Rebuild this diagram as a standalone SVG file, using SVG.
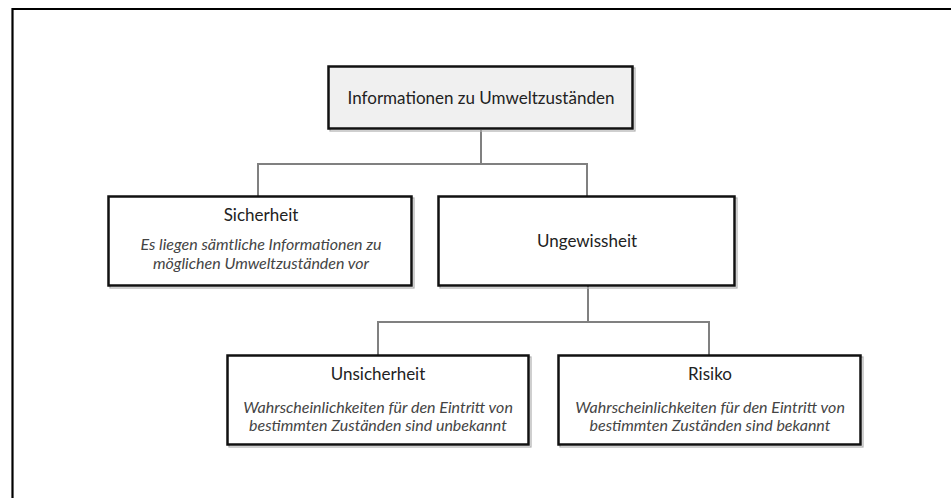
<svg xmlns="http://www.w3.org/2000/svg" width="951" height="498" viewBox="0 0 951 498">
<style>
.frame{fill:none;stroke:#000;stroke-width:2.2}
.box{fill:#fff;stroke:#111;stroke-width:2.5}
.shadow{fill:none;stroke:#b0b0b0;stroke-width:1.2}
.root{fill:#f0f0f0}
.conn{fill:none;stroke:#808080;stroke-width:2}
.t{font-family:Lato,"Open Sans","Liberation Sans",sans-serif;font-size:17px;fill:#222;text-anchor:middle}
.i{font-family:Lato,"Open Sans","Liberation Sans",sans-serif;font-size:16px;font-style:italic;fill:#444;text-anchor:middle}
</style>
<rect width="951" height="498" fill="#fff"/>
<path class="frame" d="M12.5 500 V9 H955"/>
<g id="connectors">
<path class="conn" d="M481 130 V164 M258 196 V164 H587 V196"/>
<path class="conn" d="M588 286 V322 M378 355 V322 H709 V355"/>
</g>
<g id="n-root">
<rect class="shadow" x="330" y="68" width="305" height="63"/>
<rect class="box root" x="328.5" y="66.5" width="304" height="62"/>
<text class="t" x="481" y="104">Informationen zu Umweltzuständen</text>
</g>
<g id="n-sicherheit">
<rect class="shadow" x="110" y="198" width="304" height="90"/>
<rect class="box" x="108.5" y="196.5" width="303" height="89"/>
<text class="t" x="261" y="221">Sicherheit</text>
<text class="i" x="261" y="250">Es liegen sämtliche Informationen zu</text>
<text class="i" x="261" y="269">möglichen Umweltzuständen vor</text>
</g>
<g id="n-ungewissheit">
<rect class="shadow" x="440" y="198" width="297" height="90"/>
<rect class="box" x="438.5" y="196.5" width="296" height="89"/>
<text class="t" x="587" y="247">Ungewissheit</text>
</g>
<g id="n-unsicherheit">
<rect class="shadow" x="229" y="357" width="302" height="90"/>
<rect class="box" x="227.5" y="355.5" width="301" height="89"/>
<text class="t" x="378" y="380">Unsicherheit</text>
<text class="i" x="378" y="413">Wahrscheinlichkeiten für den Eintritt von</text>
<text class="i" x="378" y="431">bestimmten Zuständen sind unbekannt</text>
</g>
<g id="n-risiko">
<rect class="shadow" x="560" y="357" width="303" height="90"/>
<rect class="box" x="558.5" y="355.5" width="302" height="89"/>
<text class="t" x="710" y="380">Risiko</text>
<text class="i" x="710" y="413">Wahrscheinlichkeiten für den Eintritt von</text>
<text class="i" x="710" y="431">bestimmten Zuständen sind bekannt</text>
</g>
</svg>
